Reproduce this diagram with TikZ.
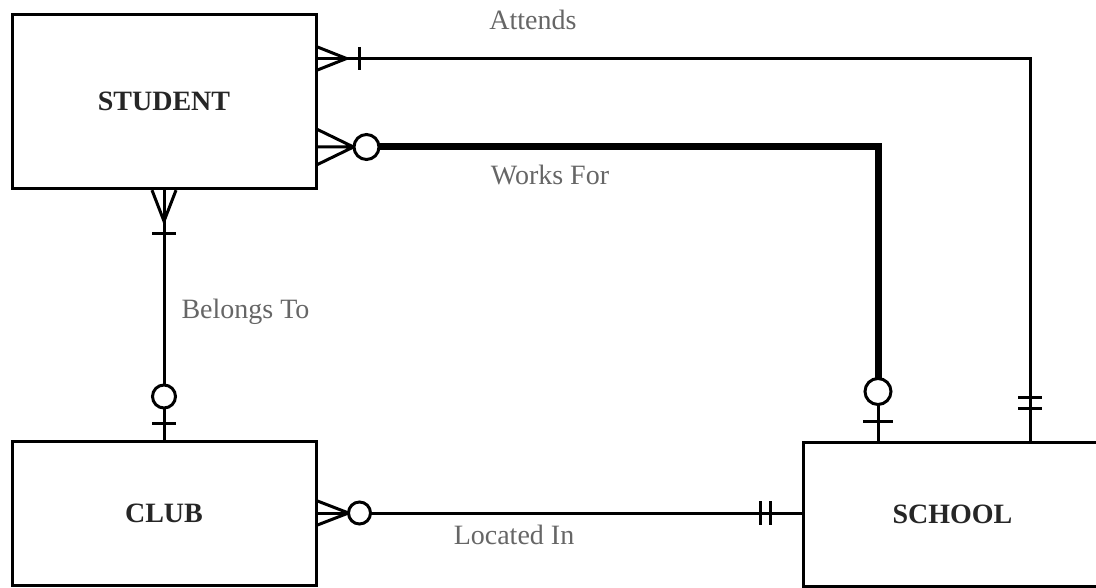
\documentclass[tikz,border=0pt]{standalone}
\usepackage{fontspec}
\setmainfont{Liberation Serif}

\begin{document}
\begin{tikzpicture}[x=1pt,y=-1pt,
  entity/.style={draw,line width=3pt,font=\fontsize{28}{30}\selectfont\bfseries,text=black!85},
  rel/.style={font=\fontsize{28}{30}\selectfont,text=black!60},
  conn/.style={line width=3pt},
  thickconn/.style={line width=7pt},
  zero/.style={conn,fill=white}]
  \clip (0,0) rectangle (1096,588);
  \node[entity,minimum width=304pt,minimum height=174pt] (student) at (164,101.7) {STUDENT};
  \node[entity,minimum width=304pt,minimum height=144pt] (club) at (164,513) {CLUB};
  \node[entity,minimum width=299pt,minimum height=144pt] (school) at (952.5,514) {SCHOOL};
  \coordinate (attC) at (1030,58.5);
  \coordinate (wfC) at (878,147);

  \draw[conn] (student.east |- attC) -- (attC) -- (school.north -| attC);
  \draw[thickconn,shorten <=40pt,shorten >=50pt] (student.east |- wfC) -- (wfC) -- (school.north -| wfC);
  \draw[conn] (student.south) -- (club.north);
  \draw[conn] (club.east) -- (club.east -| school.west);

  % attends
  \draw[conn] (student.east |- attC) ++(0,-11.5) -- ++(29,11.5) -- ++(-29,11.5);
  \draw[conn] (student.east |- attC) ++(42,-11.5) -- ++(0,23);
  \draw[conn] (school.north -| attC) ++(-12,-32) -- ++(24,0) ++(-24,-11) -- ++(24,0);
  % works for
  \draw[conn] (student.east |- wfC) ++(0,-17.5) -- ++(36,17.5) -- ++(-36,17.5) ++(0,-17.5) -- ++(40,0);
  \draw[zero] (student.east |- wfC) ++(49,0) circle[radius=12.5pt];
  \draw[conn] (school.north -| wfC) -- ++(0,-38) ++(-15,19) -- ++(30,0);
  \draw[zero] (school.north -| wfC) ++(0,-49) circle[radius=13pt];
  % belongs to
  \draw[conn] (student.south) ++(-12,0) -- ++(12,31) -- ++(12,-31);
  \draw[conn] (student.south) ++(-12,43) -- ++(24,0);
  \draw[conn] (club.north) ++(-12,-16) -- ++(24,0);
  \draw[zero] (club.north) ++(0,-43) circle[radius=11.5pt];
  % located in
  \draw[conn] (club.east) ++(0,-12) -- ++(31,12) -- ++(-31,12);
  \draw[zero] (club.east) ++(42,0) circle[radius=11pt];
  \draw[conn] (club.east -| school.west) ++(-41,-12) -- ++(0,24) ++(10,-24) -- ++(0,24);

  \node[rel] (attends) at (533,20) {Attends};
  \node[rel] (worksfor) at (550,175) {Works For};
  \node[rel,anchor=west] (belongsto) at (178,312) {Belongs To};
  \node[rel] (locatedin) at (514,535) {Located In};
\end{tikzpicture}
\end{document}
